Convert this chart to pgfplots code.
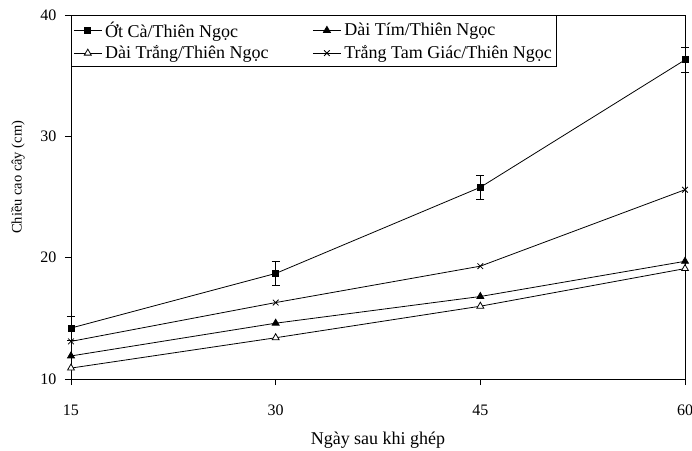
\documentclass[border=0pt]{standalone}
\usepackage{fontspec}
\setmainfont{Liberation Serif}
\usepackage{pgfplots}
\pgfplotsset{compat=1.18}
\begin{document}
\begin{tikzpicture}
\begin{axis}[name=ax, scale only axis, width=614pt, height=364pt,
  xmin=15, xmax=60, ymin=10, ymax=40,
  xtick={15,30,45,60}, ytick={10,20,30,40},
  tick align=outside, major tick length=6pt,
  xtick pos=bottom, ytick pos=left,
  axis line style={line width=0.8pt},
  every tick/.style={black, line width=0.8pt},
  /pgf/number format/assume math mode=true,
  tick label style={font=\fontsize{16}{19}\selectfont},
  xticklabel style={yshift=-16pt},
  yticklabel style={xshift=-5pt},
  xlabel={Ngày sau khi ghép},
  ylabel={Chiều cao cây (cm)},
  xlabel style={font=\fontsize{18}{21}\selectfont, at={(axis description cs:0.5,0)}, anchor=center, yshift=-61pt},
  ylabel style={font=\fontsize{14.5}{17}\selectfont, at={(axis description cs:-0.0863,0.554)}, anchor=center},
  clip=false,
  legend columns=2,
  legend cell align=left,
  legend image code/.code={\draw[mark repeat=2,mark phase=2,#1] plot coordinates {(0pt,0pt)(14pt,0pt)(28pt,0pt)};},
  legend style={at={(axis description cs:0,1)}, anchor=north west, draw=black, line width=0.8pt,
     font=\fontsize{18}{20}\selectfont, inner xsep=2pt, inner ysep=4.5pt, row sep=3pt,
     nodes={inner xsep=3pt, inner ysep=2pt},
     /tikz/every even column/.append style={column sep=41pt}},
]
\addplot[black, line width=0.8pt, mark=square*, mark size=3pt, mark options={fill=black, solid},
  error bars/.cd, y dir=both, y explicit,
  error bar style={line width=0.8pt, black},
  error mark options={rotate=90, mark size=4pt, line width=0.8pt, black}]
  coordinates {(15,14.2) +- (0,1) (30,18.7) +- (0,1) (45,25.8) +- (0,1) (60,36.3) +- (0,1)};
\addlegendentry{Ớt Cà/Thiên Ngọc}
\addplot[black, line width=0.8pt, mark=triangle*, mark size=4pt, mark options={fill=black, solid}]
  coordinates {(15,11.9) (30,14.6) (45,16.8) (60,19.7)};
\addlegendentry{Dài Tím/Thiên Ngọc}
\addplot[black, line width=0.8pt, mark=triangle*, mark size=4pt, mark options={fill=white, solid}]
  coordinates {(15,10.9) (30,13.4) (45,16.0) (60,19.1)};
\addlegendentry{Dài Trắng/Thiên Ngọc}
\addplot[black, line width=0.8pt, mark=x, mark size=4pt, mark options={solid}]
  coordinates {(15,13.1) (30,16.3) (45,19.3) (60,25.6)};
\addlegendentry{Trắng Tam Giác/Thiên Ngọc}
\end{axis}
\pgfresetboundingbox
\path ([xshift=-71pt,yshift=-71pt]ax.south west) rectangle ([xshift=7pt,yshift=15pt]ax.north east);
\end{tikzpicture}
\end{document}
